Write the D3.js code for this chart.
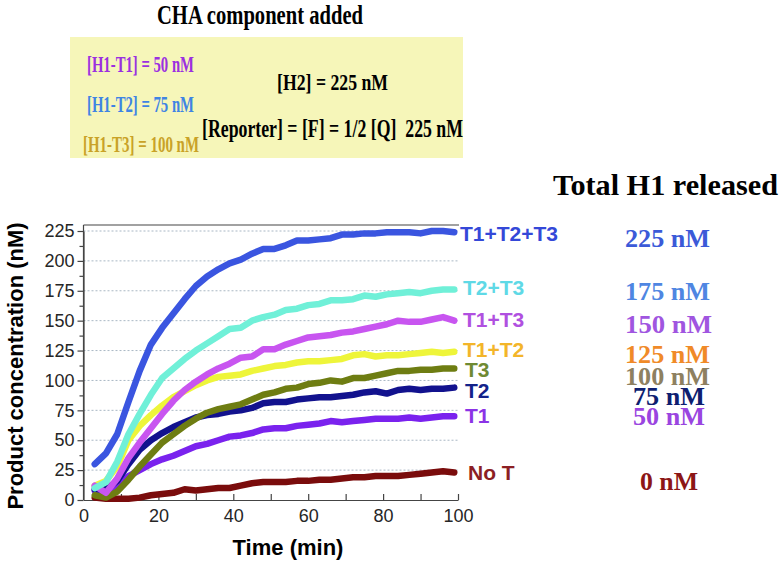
<!DOCTYPE html>
<html><head><meta charset="utf-8">
<script src="https://cdn.jsdelivr.net/npm/d3@7"></script>
<style>body{margin:0;background:#fff}svg{display:block}</style>
</head><body>
<script>
// ---- data ----
const times = [3,6,9,12,15,18,21,24,27,30,33,36,39,42,45,48,51,54,57,60,63,66,69,72,75,78,81,84,87,90,93,96,99];
const noT      = [2,1,1,1,2,4,5,6,9,8,9,10,10,12,14,15,15,15,16,16,17,17,18,19,19,20,20,20,21,22,23,24,23];
const t1       = [8,7,13,20,25,30,34,37,41,45,47,50,53,54,56,59,60,60,62,63,64,66,65,66,67,68,68,68,69,68,69,70,70];
const t2       = [9,9,16,30,42,50,56,61,65,69,71,72,74,75,77,81,82,82,84,85,86,86,87,88,90,91,89,92,93,92,93,93,94];
const t3       = [4,2,7,17,28,38,48,55,62,68,73,76,78,80,84,88,90,93,94,97,98,100,99,102,102,104,106,108,108,109,109,110,110];
const t1t2     = [12,16,28,50,62,71,79,86,91,96,100,103,104,105,108,110,112,113,115,116,116,117,118,121,122,120,121,121,122,123,124,123,124];
const t1t3     = [12,6,18,35,48,60,72,83,92,99,105,110,114,119,120,126,126,130,133,136,137,138,140,141,143,145,147,150,149,149,151,153,150];
const t2t3     = [10,15,32,55,72,88,102,110,118,125,131,137,143,144,150,153,155,159,160,163,164,167,167,168,171,170,172,173,174,173,175,176,176];
const t1t2t3   = [30,39,55,82,108,130,144,156,168,179,187,193,198,201,206,210,210,213,217,217,218,219,222,222,223,223,224,224,224,223,225,225,224];

const seriesNames  = ["No T","T1","T2","T3","T1+T2","T1+T3","T2+T3","T1+T2+T3"];
const seriesValues = [noT,t1,t2,t3,t1t2,t1t3,t2t3,t1t2t3];
const lineColors   = ["#7a0c0c","#7a22ee","#12128e","#6e7d12","#eef53a","#c855f0","#70f0d8","#3a55e0"];
const labelColors  = ["#8c1f24","#8b33e6","#13238a","#6f8a33","#f3b52a","#b050e0","#5fd9e6","#3448d8"];
const labelBase    = [480,423,398,377,357,327,295,241];
const labelX       = [468,465,465,465,463,463,463,460];

const totalLabels = ["0 nM","50 nM","75 nM","100 nM","125 nM","150 nM","175 nM","225 nM"];
const totalColors = ["#8c1616","#9a45e0","#0e1e70","#8e8060","#f08a28","#a055e0","#4f86e2","#3b5ad8"];
const totalBase   = [490,425,405,385,363,333,300,247];
const totalX      = [640,633,633,625,625,625,625,625];
const totalW      = [58,72,72,85,85,87,85,85];

const yTicks = [0,25,50,75,100,125,150,175,200,225];
const xTicks = [0,20,40,60,80,100];

const W = 784, H = 562;
const svg = d3.select("body").append("svg").attr("width",W).attr("height",H);
const serif = "'Liberation Serif','Times New Roman',serif";
const sans  = "'Liberation Sans',Arial,sans-serif";

// title
svg.append("text").attr("x",157).attr("y",24).attr("font-family",serif).attr("font-weight","bold")
  .attr("font-size",28).attr("textLength",206).attr("lengthAdjust","spacingAndGlyphs").text("CHA component added");

// yellow box
svg.append("rect").attr("x",70).attr("y",37).attr("width",393).attr("height",121).attr("fill","#f6f6b9");
const boxTexts = [
  {t:"[H1-T1] = 50 nM", x:87, y:72, w:107, c:"#9b30e0", s:23},
  {t:"[H1-T2] = 75 nM", x:87, y:112, w:107, c:"#3f84e4", s:23},
  {t:"[H1-T3] = 100 nM", x:83, y:152, w:116, c:"#c9a227", s:23},
  {t:"[H2] = 225 nM", x:277, y:90, w:111, c:"#000", s:24},
  {t:"[Reporter] = [F] = 1/2 [Q]  225 nM", x:202, y:137, w:261, c:"#000", s:25}
];
boxTexts.forEach(b=>{
  svg.append("text").attr("x",b.x).attr("y",b.y).attr("font-family",serif).attr("font-weight","bold")
    .attr("font-size",b.s).attr("fill",b.c).attr("textLength",b.w).attr("lengthAdjust","spacingAndGlyphs")
    .attr("xml:space","preserve").style("white-space","pre").text(b.t);
});

svg.append("text").attr("x",553).attr("y",195).attr("font-family",serif).attr("font-weight","bold")
  .attr("font-size",30).attr("textLength",225).attr("lengthAdjust","spacingAndGlyphs").text("Total H1 released");

// scales
const x = d3.scaleLinear().domain([0,100]).range([83.5,458]);
const y = d3.scaleLinear().domain([0,225]).range([500,231]);

// grid
svg.append("g").selectAll("line").data(yTicks.filter(d=>d>0)).join("line")
  .attr("x1",x(0)).attr("x2",x(100)).attr("y1",d=>y(d)).attr("y2",d=>y(d))
  .attr("stroke","#a9b7c4").attr("stroke-width",1).attr("stroke-dasharray","2,2");

// frame top
svg.append("line").attr("x1",x(0)).attr("x2",x(100)+1).attr("y1",y(230)).attr("y2",y(230))
  .attr("stroke","#444").attr("stroke-width",1.2);

// y axis
const yAxis = svg.append("g").attr("transform",`translate(${x(0)},0)`)
  .call(d3.axisLeft(y).tickValues(yTicks).tickSize(6).tickPadding(3).tickSizeOuter(0));
svg.append("g").attr("transform",`translate(${x(0)},0)`)
  .call(d3.axisLeft(y).tickValues(yTicks.slice(0,-1).map(d=>d+12.5)).tickSize(4).tickFormat("").tickSizeOuter(0))
  .select(".domain").remove();
svg.append("line").attr("x1",x(0)).attr("x2",x(0)).attr("y1",y(0)).attr("y2",y(230)).attr("stroke","#444").attr("stroke-width",1.2);

// x axis
const xAxis = svg.append("g").attr("transform",`translate(0,${y(0)})`)
  .call(d3.axisBottom(x).tickValues(xTicks).tickSize(0).tickPadding(9).tickSizeOuter(0));
svg.append("g").attr("transform",`translate(0,${y(0)})`)
  .call(d3.axisTop(x).tickValues([10,20,30,40,50,60,70,80,90,100]).tickSize(6).tickFormat("").tickSizeOuter(0))
  .select(".domain").remove();

[yAxis,xAxis].forEach(g=>{
  g.select(".domain").attr("stroke","#444").attr("stroke-width",1.2);
  g.selectAll(".tick text").attr("font-family",sans).attr("font-size",18).attr("fill","#262626");
});
svg.selectAll(".tick line").attr("stroke","#444").attr("stroke-width",1.2);

// axis titles
svg.append("text").attr("transform","translate(23,366) rotate(-90)").attr("text-anchor","middle")
  .attr("font-family",sans).attr("font-weight","bold").attr("font-size",22).text("Product concentration (nM)");
svg.append("text").attr("x",288).attr("y",555).attr("text-anchor","middle")
  .attr("font-family",sans).attr("font-weight","bold").attr("font-size",22).text("Time (min)");

// lines
const line = d3.line().x((d,i)=>x(times[i])).y(d=>y(d)).curve(d3.curveLinear);
seriesValues.forEach((vals,k)=>{
  svg.append("path").datum(vals).attr("d",line).attr("fill","none")
    .attr("stroke",lineColors[k]).attr("stroke-width",6.5).attr("stroke-linejoin","round").attr("stroke-linecap","round");
});

// series labels
seriesNames.forEach((n,k)=>{
  svg.append("text").attr("x",labelX[k]).attr("y",labelBase[k]).attr("font-family",sans).attr("font-weight","bold")
    .attr("font-size",21).attr("fill",labelColors[k]).text(n);
  svg.append("text").attr("x",totalX[k]).attr("y",totalBase[k]).attr("font-family",serif).attr("font-weight","bold")
    .attr("font-size",25).attr("fill",totalColors[k]).attr("textLength",totalW[k]).attr("lengthAdjust","spacingAndGlyphs").text(totalLabels[k]);
});
</script>
</body></html>
